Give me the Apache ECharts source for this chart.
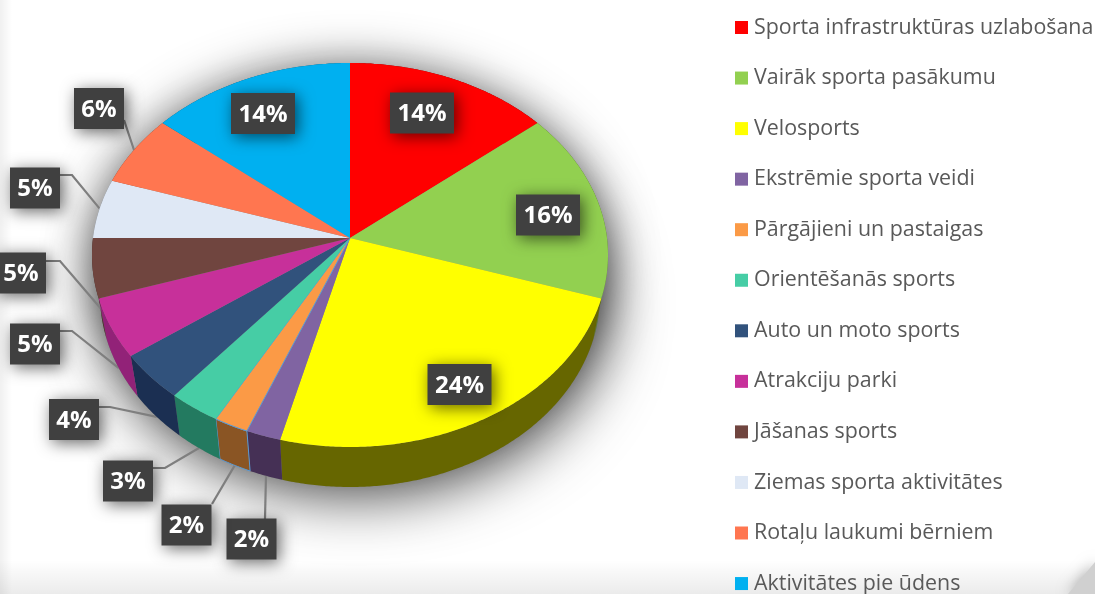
<!DOCTYPE html>
<html><head><meta charset="utf-8">
<style>html,body{margin:0;padding:0;background:#fff}#c{width:1095px;height:594px;filter:blur(0.5px)}</style>
<script src="https://cdn.jsdelivr.net/npm/echarts@6/dist/echarts.min.js"></script>
</head><body><div id="c"></div>
<script>
const categories = ['Sporta infrastruktūras uzlabošana','Vairāk sporta pasākumu','Velosports','Ekstrēmie sporta veidi','Pārgājieni un pastaigas','Orientēšanās sports','Auto un moto sports','Atrakciju parki','Jāšanas sports','Ziemas sporta aktivitātes','Rotaļu laukumi bērniem','Aktivitātes pie ūdens'];
const values = [14,16,24,2,2,3,4,5,5,5,6,14];
const topColors = ['#ff0000','#92d050','#ffff00','#8064a2','#fb9a46','#46cda5','#31527c','#c7309a','#70453f','#dfe8f5','#ff7650','#00b0f0'];
const wallColors = ['#990000','#587d30','#666600','#453055','#8a5524','#237a60','#1b2f52','#922278','#4a2d29','#8a9099','#99462f','#006a90'];
// label box centres and optional leader elbows (layout only)
const labelCentres = [[422,113],[548,215],[459.5,384.5],[251.5,539],[186.5,525],[128,481],[74,419.5],[35,344],[21,273],[35,188],[99,108.5],[263,113.5]];
const leaderStarts = [null,null,null,[265,519],[212,504],[153,468],[99,407],[60,331],[46,261],[60,175],[124,120],null];
const leaderElbows = [null,null,null,null,null,[165,468],[110,407],[72,331],[60,261],[72,175],null,null];

const TOP = {cx:350, cy:255, rx:258, ry:192};
const BOT = {cx:350, cy:295, rx:250, ry:192};
const PERSPECTIVE = -0.0885;
const total = values.reduce((a,b)=>a+b,0);
function cum(i){let s=0;for(let k=0;k<i;k++)s+=values[k];return s;}
function proj(frac, e){
  const t = frac*2*Math.PI, x=Math.sin(t), y=-Math.cos(t), p=PERSPECTIVE, d=1+p*y;
  return [e.cx+e.rx*x*Math.sqrt(1-p*p)/d, e.cy+e.ry*(y+p)/d];
}
function arc(f0,f1,e){
  const n=Math.max(2,Math.ceil((f1-f0)*720)), pts=[];
  for(let k=0;k<=n;k++)pts.push(proj(f0+(f1-f0)*k/n,e));
  return pts;
}
function apex(){return [TOP.cx, TOP.cy+TOP.ry*PERSPECTIVE];}
function edgeStroke(i){return i===4?{stroke:'#5b9bd5',lineWidth:1}:{stroke:null,lineWidth:0};}

const series = [];
// soft shadow + leaders + walls
series.push({type:'custom',name:'_walls',coordinateSystem:'none',z:1,silent:true,animation:false,
  data:[0],
  renderItem(){
    const children=[];
    const outline=arc(0,1,BOT);
    children.push({type:'polygon',shape:{points:outline},style:{fill:'#888',shadowBlur:60,shadowColor:'rgba(0,0,0,0.75)',shadowOffsetX:6,shadowOffsetY:8}});
    children.push({type:'polygon',shape:{points:arc(0,1,TOP)},style:{fill:'#888',shadowBlur:45,shadowColor:'rgba(0,0,0,0.55)'}});
    values.forEach((v,i)=>{
      if(!leaderStarts[i])return;
      const f=(cum(i)+v/2)/total, onTop=proj(f,TOP);
      const end=onTop[1]<TOP.cy?onTop:proj(f,BOT);
      const pts=[leaderStarts[i]];
      if(leaderElbows[i])pts.push(leaderElbows[i]);
      pts.push(end);
      children.push({type:'polyline',shape:{points:pts},style:{stroke:'#7f7f7f',lineWidth:2.2,fill:null}});
    });
    values.forEach((v,i)=>{
      const f0=cum(i)/total,f1=cum(i+1)/total;
      const pts=arc(f0,f1,TOP).concat(arc(f0,f1,BOT).reverse());
      children.push({type:'polygon',shape:{points:pts},style:Object.assign({fill:wallColors[i]},edgeStroke(i))});
    });
    return {type:'group',children};
  }
});
// one series per slice so the legend lists the categories
categories.forEach((name,i)=>{
  series.push({type:'custom',name,coordinateSystem:'none',z:2,silent:true,animation:false,
    itemStyle:{color:topColors[i]},
    data:[values[i]],
    renderItem(){
      const pts=[apex()].concat(arc(cum(i)/total,cum(i+1)/total,TOP));
      return {type:'polygon',shape:{points:pts},style:Object.assign({fill:topColors[i]},edgeStroke(i))};
    }
  });
});
// data labels
series.push({type:'custom',name:'_labels',coordinateSystem:'none',z:3,silent:true,animation:false,
  data:[0],
  renderItem(){
    const children=[];
    values.forEach((v,i)=>{
      const [x,y]=labelCentres[i], w=v>=10?64:50, h=41;
      children.push({type:'rect',shape:{x:x-w/2,y:y-h/2,width:w,height:h},style:{fill:'#404040',shadowBlur:16,shadowColor:'rgba(0,0,0,0.6)',shadowOffsetX:3,shadowOffsetY:3}});
      children.push({type:'text',style:{x,y:y+1.5,text:v+'%',fill:'#fff',font:'700 24px "Open Sans"',align:'center',verticalAlign:'middle'}});
    });
    return {type:'group',children};
  }
});

const chart = echarts.init(document.getElementById('c'),null,{renderer:'canvas'});
chart.setOption({
  animation:false,
  backgroundColor:'#ffffff',
  legend:{
    data:categories, orient:'vertical', left:735, top:15.5, height:640, icon:'rect',
    itemWidth:13, itemHeight:13, itemGap:26.55, padding:0, selectedMode:false,
    textStyle:{color:'#595959',fontFamily:'"Open Sans"',fontSize:21.4,lineHeight:24,padding:[0,0,0,1]}
  },
  graphic:[
    {type:'rect',z:-10,shape:{x:0,y:0,width:12,height:594},style:{fill:new echarts.graphic.LinearGradient(0,0,1,0,[{offset:0,color:'rgba(0,0,0,0.06)'},{offset:1,color:'rgba(0,0,0,0)'}])}},
    {type:'rect',z:-10,shape:{x:0,y:560,width:1095,height:34},style:{fill:new echarts.graphic.LinearGradient(0,0,0,1,[{offset:0,color:'rgba(0,0,0,0)'},{offset:1,color:'rgba(0,0,0,0.08)'}])}},
    {type:'polygon',z:-9,shape:{points:[[1095,562],[1095,594],[1068,594]]},style:{fill:'#d0d0d0',shadowBlur:14,shadowColor:'rgba(0,0,0,0.3)'}}
  ],
  series
});
</script></body></html>
